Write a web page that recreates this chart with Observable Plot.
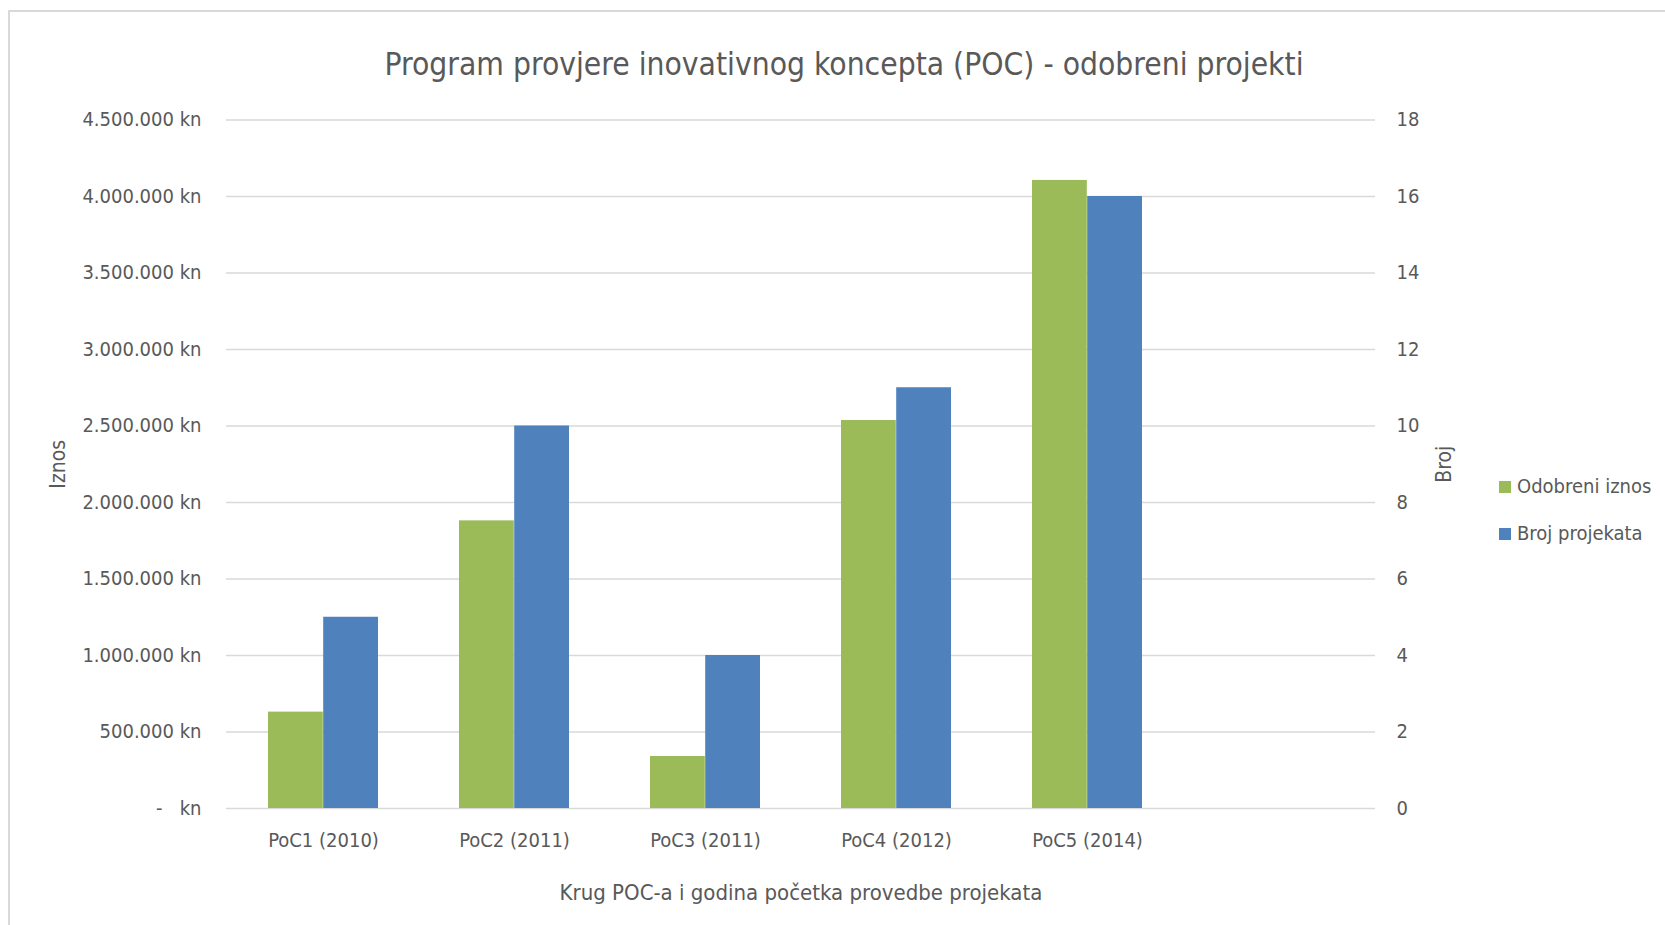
<!DOCTYPE html>
<html>
<head>
<meta charset="utf-8">
<script src="https://cdn.jsdelivr.net/npm/d3@7"></script>
<script src="https://cdn.jsdelivr.net/npm/@observablehq/plot@0.6"></script>
<style>
  html, body { margin: 0; padding: 0; background: #fff; overflow: hidden; }
  #wrap { position: relative; width: 1665px; height: 925px; font-family: "Liberation Sans Narrow", "DejaVu Sans Condensed", sans-serif; color: #595959; }
  #frame { position: absolute; left: 8px; top: 10px; width: 1700px; height: 1000px; border: 2px solid #d9d9d9; box-sizing: border-box; }
  #legend { position: absolute; left: 1499px; top: 463px; font-size: 20px; line-height: 47px; }
  #legend .item { display: flex; align-items: center; white-space: nowrap; }
  #legend .sw { display: inline-block; width: 12px; height: 12px; margin-right: 6px; }
  svg { position: absolute; left: 0; top: 0; }
</style>
</head>
<body>
<div id="wrap"><div id="frame"></div></div>
<script>
const title = "Program provjere inovativnog koncepta (POC) - odobreni projekti";
const categories = ["PoC1 (2010)", "PoC2 (2011)", "PoC3 (2011)", "PoC4 (2012)", "PoC5 (2014)"];
const iznos = [630000, 1880000, 340000, 2536000, 4105000];
const broj = [5, 10, 4, 11, 16];
const seriesNames = ["Odobreni iznos", "Broj projekata"];
const seriesColors = ["#9BBB59", "#4F81BD"];
const leftTicks = [0, 500000, 1000000, 1500000, 2000000, 2500000, 3000000, 3500000, 4000000, 4500000];
const rightTicks = [0, 2, 4, 6, 8, 10, 12, 14, 16, 18];
const yLabelLeft = "Iznos";
const yLabelRight = "Broj";
const xLabel = "Krug POC-a i godina početka provedbe projekata";

const leftMax = 4500000, rightMax = 18;
const ratio = leftMax / rightMax;

const xDomain = [...categories, " "];
const rowsA = categories.map((c, i) => ({cat: c, value: iznos[i]}));
const rowsB = categories.map((c, i) => ({cat: c, value: broj[i]}));

const W = 1665, H = 925;
const mL = 226, mR = 290, mT = 119.5, mB = 117;
const padInner = 0.4235;
const step = (W - mL - mR) / xDomain.length;
const half = step * (1 - padInner) / 2;

const fmtKn = d => d === 0 ? "-\u00a0\u00a0\u00a0kn" : d3.format(",")(d).replace(/,/g, ".") + " kn";
const textColor = "#595959";
const font = "\"Liberation Sans Narrow\", \"DejaVu Sans Condensed\", sans-serif";

const chart = Plot.plot({
  width: W, height: H,
  marginLeft: mL, marginRight: mR, marginTop: mT, marginBottom: mB,
  style: {fontFamily: font, fontSize: "20px", color: textColor, background: "transparent", overflow: "visible"},
  x: {domain: xDomain, paddingInner: padInner, paddingOuter: padInner / 2},
  y: {domain: [0, leftMax]},
  marks: [
    Plot.ruleY(leftTicks, {stroke: "#d9d9d9", strokeWidth: 1.5}),
    Plot.barY(rowsA, {x: "cat", y: "value", fill: seriesColors[0], insetRight: half}),
    Plot.barY(rowsB, {x: "cat", y: d => d.value * ratio, fill: seriesColors[1], insetLeft: half}),
    Plot.axisX({ticks: categories, tickSize: 0, tickPadding: 24, label: null, fill: textColor}),
    Plot.axisY({anchor: "left", ticks: leftTicks, tickFormat: fmtKn, tickSize: 0, tickPadding: 25, label: null, fill: textColor}),
    Plot.axisY({anchor: "right", ticks: rightTicks.map(v => v * ratio), tickFormat: d => d3.format("d")(d / ratio), tickSize: 0, tickPadding: 21, label: null, fill: textColor}),
    Plot.text([yLabelLeft], {frameAnchor: "left", textAnchor: "middle", dx: -168, rotate: -90, fill: textColor, fontSize: 21}),
    Plot.text([yLabelRight], {frameAnchor: "right", textAnchor: "middle", dx: 69, rotate: -90, fill: textColor, fontSize: 21}),
    Plot.text([xLabel], {frameAnchor: "bottom", dy: 91, fill: textColor, fontSize: 22}),
    Plot.text([title], {frameAnchor: "top", lineAnchor: "middle", dx: 43, dy: -55.5, fill: textColor, fontSize: 31.5})
  ]
});
document.getElementById("wrap").appendChild(chart);

const legend = document.createElement("div");
legend.id = "legend";
seriesNames.forEach((n, i) => {
  const item = document.createElement("div");
  item.className = "item";
  const sw = document.createElement("span");
  sw.className = "sw";
  sw.style.background = seriesColors[i];
  item.appendChild(sw);
  item.appendChild(document.createTextNode(n));
  legend.appendChild(item);
});
document.getElementById("wrap").appendChild(legend);
</script>
</body>
</html>
